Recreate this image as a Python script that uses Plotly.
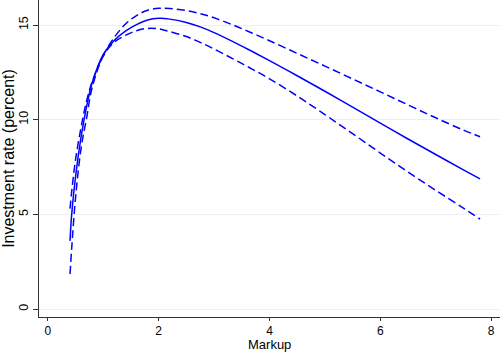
import plotly.graph_objects as go

markup = [0.4, 0.43, 0.5, 0.6, 0.7, 0.8, 1.0, 1.2, 1.4, 1.6, 1.8, 2.0, 2.2, 2.5,
          2.75, 3.0, 3.35, 3.65, 4.0, 4.5, 5.0, 5.5, 6.0, 6.5, 7.0, 7.5, 7.8]
central = [3.6, 5.0, 7.0, 9.1, 10.7, 11.95, 13.45, 14.2, 14.68, 15.02, 15.26, 15.35,
           15.31, 15.13, 14.9, 14.6, 14.11, 13.66, 13.12, 12.32, 11.5, 10.66, 9.82,
           8.98, 8.16, 7.35, 6.87]
upper = [5.3, 6.2, 7.9, 9.6, 11.0, 12.0, 13.4, 14.35, 15.05, 15.5, 15.78, 15.88,
         15.87, 15.76, 15.6, 15.38, 14.99, 14.62, 14.17, 13.5, 12.83, 12.15, 11.47,
         10.78, 10.1, 9.45, 9.1]
lower = [1.85, 3.2, 5.9, 8.5, 10.1, 11.7, 13.35, 14.1, 14.45, 14.7, 14.82, 14.8,
         14.65, 14.39, 14.08, 13.73, 13.2, 12.73, 12.16, 11.25, 10.27, 9.26, 8.24,
         7.24, 6.27, 5.33, 4.75]

x_ticks = [0, 2, 4, 6, 8]
y_ticks = [0, 5, 10, 15]

blue = "#0000FF"
fig = go.Figure()
fig.add_trace(go.Scatter(x=markup, y=upper, mode="lines", line_shape="spline",
                         line=dict(color=blue, width=1.5, dash="8px,4px")))
fig.add_trace(go.Scatter(x=markup, y=lower, mode="lines", line_shape="spline",
                         line=dict(color=blue, width=1.5, dash="8px,4px")))
fig.add_trace(go.Scatter(x=markup, y=central, mode="lines", line_shape="spline",
                         line=dict(color=blue, width=1.5)))

font = "Liberation Sans, Arial, sans-serif"
fig.update_layout(
    width=500, height=352,
    margin=dict(l=39, r=0, t=0, b=35),
    paper_bgcolor="white", plot_bgcolor="white",
    showlegend=False,
    font=dict(family=font, size=13, color="black"),
    xaxis=dict(range=[-0.16, 8.16], tickvals=x_ticks, ticks="outside", ticklen=3,
               tickcolor="#333", showline=True, linecolor="#333", linewidth=1,
               showgrid=False, zeroline=False, tickfont=dict(size=12),
               automargin=False),
    yaxis=dict(range=[-0.42, 16.32], tickvals=y_ticks, ticks="outside", ticklen=5,
               tickcolor="#333", showline=True, linecolor="#333", linewidth=1,
               showgrid=True, gridcolor="#eaf0f2", gridwidth=1, zeroline=False,
               tickangle=-90, tickfont=dict(size=12.5), automargin=False,
               title=dict(text="Investment rate (percent)", standoff=4)),
    annotations=[dict(text="Markup", xref="paper", yref="paper", x=0.5, y=0,
                      xanchor="center", yanchor="middle", yshift=-27,
                      showarrow=False, font=dict(family=font, size=13))],
)
fig.write_html("out.html")
